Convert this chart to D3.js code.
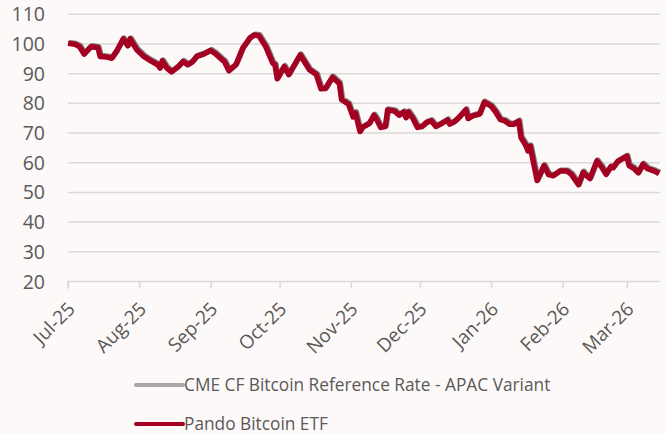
<!DOCTYPE html>
<html>
<head>
<meta charset="utf-8">
<script src="https://cdn.jsdelivr.net/npm/d3@7.9.0/dist/d3.min.js"></script>
<style>
  html, body { margin: 0; padding: 0; background: #fdf9f8; }
  svg { display: block; }
  text { font-family: "Open Sans", sans-serif; fill: #595959; }
</style>
</head>
<body>
<svg id="chart" width="665" height="434"></svg>
<script>
// Dates (index rebased to 100 on 1 Jul 2025)
const dates = [
  "2025-07-01","2025-07-04","2025-07-06","2025-07-08","2025-07-11","2025-07-14","2025-07-15",
  "2025-07-18","2025-07-20","2025-07-22","2025-07-25","2025-07-27","2025-07-28","2025-07-31",
  "2025-08-03","2025-08-06","2025-08-09","2025-08-10","2025-08-11","2025-08-13","2025-08-15",
  "2025-08-18","2025-08-20","2025-08-22","2025-08-24","2025-08-26","2025-08-29","2025-09-01",
  "2025-09-03","2025-09-06","2025-09-07","2025-09-09","2025-09-12","2025-09-15","2025-09-18",
  "2025-09-20","2025-09-22","2025-09-25","2025-09-28","2025-09-29","2025-09-30","2025-10-03",
  "2025-10-05","2025-10-10","2025-10-14","2025-10-17","2025-10-19","2025-10-21","2025-10-24",
  "2025-10-27","2025-10-28","2025-10-31","2025-11-02","2025-11-03","2025-11-05","2025-11-06",
  "2025-11-09","2025-11-11","2025-11-12","2025-11-14","2025-11-16","2025-11-17","2025-11-20",
  "2025-11-22","2025-11-24","2025-11-25","2025-11-26","2025-11-28","2025-11-30","2025-12-02",
  "2025-12-04","2025-12-06","2025-12-08","2025-12-10","2025-12-13","2025-12-14","2025-12-16",
  "2025-12-18","2025-12-21","2025-12-22","2025-12-24","2025-12-27","2025-12-29","2026-01-01",
  "2026-01-03","2026-01-05","2026-01-07","2026-01-09","2026-01-11","2026-01-13","2026-01-14",
  "2026-01-16","2026-01-17","2026-01-18","2026-01-21","2026-01-24","2026-01-26","2026-01-28",
  "2026-01-31","2026-02-03","2026-02-05","2026-02-08","2026-02-10","2026-02-11","2026-02-13",
  "2026-02-16","2026-02-18","2026-02-20","2026-02-22","2026-02-23","2026-02-25","2026-03-01",
  "2026-03-02","2026-03-04","2026-03-06","2026-03-08","2026-03-10","2026-03-13","2026-03-15"
];

const etfValues = [
  100.2, 99.9, 99.1, 96.6, 99.1, 98.8, 95.8,
  95.6, 95.2, 97.4, 101.7, 99.4, 101.7, 98.0,
  95.8, 94.3, 93.0, 91.9, 94.3, 91.9, 90.6,
  92.4, 94.1, 93.0, 93.9, 95.8, 96.6, 97.8,
  96.8, 94.7, 94.1, 91.0, 93.0, 98.6, 101.9,
  103.0, 102.8, 99.1, 93.6, 93.0, 88.3, 92.4,
  89.7, 96.3, 91.3, 89.7, 84.9, 85.0, 88.8,
  86.7, 81.2, 79.7, 75.4, 76.8, 70.5, 71.9,
  73.2, 76.0, 74.9, 71.9, 72.2, 77.8, 77.4,
  76.0, 77.1, 75.2, 77.1, 74.9, 71.9, 72.2,
  73.6, 74.1, 72.2, 73.0, 74.4, 73.0, 73.8,
  75.2, 77.8, 74.9, 75.8, 76.4, 80.4, 79.1,
  77.1, 74.5, 74.1, 73.0, 73.0, 74.0, 68.5,
  66.0, 64.0, 65.6, 54.0, 59.0, 56.0, 55.6,
  57.2, 57.2, 56.0, 52.6, 56.8, 55.9, 54.7,
  60.6, 58.6, 56.1, 58.6, 58.3, 60.4, 62.2,
  59.0, 58.1, 56.6, 59.5, 58.0, 57.2, 56.4
];

// reference rate tracks the ETF almost exactly
const refValues = etfValues.slice();

const yTicks = [20, 30, 40, 50, 60, 70, 80, 90, 100, 110];
const seriesNames = ["CME CF Bitcoin Reference Rate - APAC Variant", "Pando Bitcoin ETF"];
const seriesColors = ["#a6a6a6", "#a50021"];

const parse = d3.timeParse("%Y-%m-%d");
const svg = d3.select("#chart");

const x = d3.scaleTime()
  .domain([parse("2025-07-01"), parse("2026-03-15")])
  .range([68, 659]);

const y = d3.scaleLinear()
  .domain([20, 110])
  .range([281.5, 14.3]);

// gridlines
svg.append("g")
  .selectAll("line")
  .data(yTicks.filter(d => d > 20))
  .join("line")
  .attr("x1", 68).attr("x2", 660)
  .attr("y1", d => y(d)).attr("y2", d => y(d))
  .attr("stroke", "#d9d9d9")
  .attr("stroke-width", 1.5);

// y labels
svg.append("g")
  .selectAll("text")
  .data(yTicks)
  .join("text")
  .attr("x", 45)
  .attr("y", d => y(d))
  .attr("dy", "0.36em")
  .attr("text-anchor", "end")
  .style("font-size", "19.5px")
  .text(d => d);

// x axis
const months = d3.timeMonth.range(parse("2025-07-01"), parse("2026-03-02"));
const xAxis = svg.append("g")
  .attr("transform", `translate(0,${y(20)})`)
  .call(d3.axisBottom(x).tickValues(months).tickSize(7).tickFormat(d3.timeFormat("%b-%y")));

xAxis.select(".domain")
  .attr("d", `M68,7V0H660`)
  .attr("stroke", "#d9d9d9")
  .attr("stroke-width", 1.5);
xAxis.selectAll(".tick line").attr("stroke", "#d9d9d9").attr("stroke-width", 1.5);
xAxis.selectAll(".tick text")
  .attr("text-anchor", "end")
  .attr("fill", "#595959")
  .style("font-family", "'Open Sans', sans-serif")
  .style("font-size", "19px")
  .attr("transform", "translate(3,24) rotate(-45)")
  .attr("x", 0).attr("y", 0).attr("dy", "0.35em");

// lines
const line = d3.line()
  .x((d, i) => x(parse(dates[i])))
  .y(d => y(d))
  .curve(d3.curveLinear);

svg.append("path")
  .datum(refValues)
  .attr("d", line)
  .attr("transform", "translate(0.9,-0.9)")
  .attr("fill", "none")
  .attr("stroke", "#808080")
  .attr("stroke-width", 5.5)
  .attr("stroke-linejoin", "round");

svg.append("path")
  .datum(etfValues)
  .attr("d", line)
  .attr("fill", "none")
  .attr("stroke", seriesColors[1])
  .attr("stroke-width", 5.5)
  .attr("stroke-linejoin", "round");

// legend
const legend = svg.append("g")
  .selectAll("g")
  .data(seriesNames)
  .join("g")
  .attr("transform", (d, i) => `translate(136,${385 + i * 39})`);

legend.append("line")
  .attr("x1", 0).attr("x2", 47)
  .attr("stroke", (d, i) => seriesColors[i])
  .attr("stroke-width", 4)
  .attr("stroke-linecap", "round");

legend.append("text")
  .attr("x", 48)
  .attr("dy", "0.35em")
  .style("font-size", "17.3px")
  .text(d => d);
</script>
</body>
</html>
